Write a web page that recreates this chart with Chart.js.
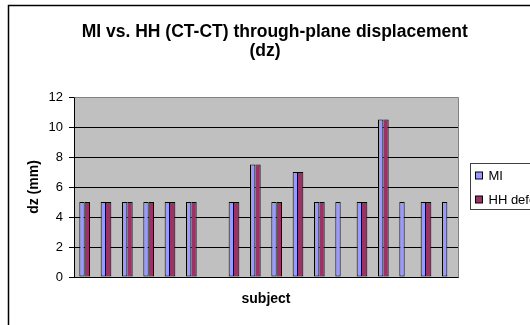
<!DOCTYPE html>
<html>
<head>
<meta charset="utf-8">
<script src="https://cdn.jsdelivr.net/npm/chart.js@4/dist/chart.umd.min.js"></script>
<style>
  html, body { margin: 0; padding: 0; background: #ffffff; }
  #wrap { position: relative; width: 530px; height: 325px; overflow: hidden; }
  canvas { display: block; }
</style>
</head>
<body>
<div id="wrap"><canvas id="c" width="530" height="325"></canvas></div>
<script>
// subjects along the category axis (subject 7 has no measurement)
const subjects = ['1','2','3','4','5','6','7','8','9','10','11','12','13','14','15','16','17','18'];
// through-plane displacement dz in mm
const miValues = [5, 5, 5, 5, 5, 5, null, 5, 7.5, 5, 7, 5, 5, 5, 10.5, 5, 5, 5];
const hhValues = [5, 5, 5, 5, 5, 5, null, 5, 7.5, 5, 7, 5, null, 5, 10.5, null, 5, null];
const seriesNames = ['MI', 'HH deformable'];
const yTicks = [0, 2, 4, 6, 8, 10, 12];

const FONT = "'Liberation Sans', Arial, sans-serif";

// grey plot background plus the outer frame of the chart object
const frameAndPlot = {
  id: 'frameAndPlot',
  beforeDraw(chart) {
    const { ctx, chartArea: a } = chart;
    ctx.save();
    ctx.fillStyle = '#ffffff';
    ctx.fillRect(0, 0, chart.width, chart.height);
    ctx.strokeStyle = '#000000';
    ctx.lineWidth = 1.5;
    ctx.strokeRect(8.5, 5.5, 700, 500);
    ctx.fillStyle = '#C0C0C0';
    ctx.fillRect(a.left, a.top, a.right - a.left, a.bottom - a.top);
    ctx.restore();
  },
  afterDatasetsDraw(chart) {
    const { ctx, chartArea: a } = chart;
    ctx.save();
    ctx.strokeStyle = '#808080';
    ctx.lineWidth = 1;
    ctx.beginPath();
    ctx.moveTo(Math.round(a.left) + 0.5, Math.round(a.top) + 0.5);
    ctx.lineTo(Math.round(a.right) + 0.5, Math.round(a.top) + 0.5);
    ctx.lineTo(Math.round(a.right) + 0.5, Math.round(a.bottom) + 0.5);
    ctx.stroke();
    ctx.restore();
  }
};

// boxed legend to the right of the plot
const boxedLegend = {
  id: 'boxedLegend',
  afterDraw(chart) {
    const { ctx } = chart;
    const x = 470.5, y = 163.5, h = 46;
    ctx.save();
    ctx.strokeStyle = '#404040';
    ctx.lineWidth = 1;
    ctx.strokeRect(x, y, 120, h);
    ctx.font = '13px ' + FONT;
    ctx.textBaseline = 'alphabetic';
    ctx.textAlign = 'left';
    chart.data.datasets.forEach((ds, i) => {
      const rowY = y + 8.5 + i * 24;
      ctx.fillStyle = ds.backgroundColor;
      ctx.fillRect(x + 5, rowY, 7, 7);
      ctx.strokeStyle = '#000000';
      ctx.strokeRect(x + 5, rowY, 7, 7);
      ctx.fillStyle = '#000000';
      ctx.fillText(ds.label, x + 18, rowY + 8);
    });
    ctx.restore();
  }
};

new Chart(document.getElementById('c'), {
  type: 'bar',
  data: {
    labels: subjects,
    datasets: [
      {
        label: seriesNames[0],
        data: miValues,
        backgroundColor: '#9999FF',
        borderColor: '#000000',
        borderWidth: { top: 1, right: 1, bottom: 1, left: 1 },
        borderSkipped: false
      },
      {
        // shares its left edge with the MI bar's right outline
        label: seriesNames[1],
        data: hhValues,
        backgroundColor: '#993366',
        borderColor: '#000000',
        borderWidth: { top: 1, right: 1, bottom: 1, left: 0 },
        borderSkipped: false
      }
    ]
  },
  options: {
    responsive: false,
    animation: false,
    categoryPercentage: 0.5,
    barPercentage: 1.0,
    layout: { padding: 0 },
    plugins: {
      legend: { display: false },
      tooltip: { enabled: false },
      title: {
        display: true,
        fullSize: true,
        text: ['    MI vs. HH (CT-CT) through-plane displacement', '(dz)'],
        color: '#000000',
        font: { family: FONT, size: 17.5, weight: 'bold', lineHeight: '19px' },
        padding: { top: 22.5, bottom: 36.5 }
      }
    },
    scales: {
      x: {
        grid: { display: false },
        border: { display: true, color: '#000000', width: 1 },
        ticks: { display: false },
        title: {
          display: true,
          text: 'subject',
          color: '#000000',
          font: { family: FONT, size: 14, weight: 'bold' },
          padding: { top: 0, bottom: 17 }
        },
        afterFit(scale) { scale.height = 48; }
      },
      y: {
        min: 0,
        max: 12,
        afterBuildTicks(scale) { scale.ticks = yTicks.map(v => ({ value: v })); },
        grid: {
          color: (c) => (c.tick && c.tick.value === 12 ? '#808080' : '#000000'),
          tickColor: '#000000',
          tickLength: 5,
          lineWidth: 1
        },
        border: { display: true, color: '#000000', width: 1 },
        ticks: {
          color: '#000000',
          padding: 6,
          font: { family: FONT, size: 13 }
        },
        title: {
          display: true,
          text: 'dz (mm)',
          color: '#000000',
          font: { family: FONT, size: 14, weight: 'bold' },
          padding: { top: 25.6, bottom: 0 }
        },
        afterFit(scale) { scale.width = 74; }
      },
      // empty right-hand strip that holds the legend
      legendSpace: {
        type: 'linear',
        position: 'right',
        display: true,
        grid: { display: false },
        border: { display: false },
        ticks: { display: false },
        afterFit(scale) { scale.width = 72; }
      }
    }
  },
  plugins: [frameAndPlot, boxedLegend]
});
</script>
</body>
</html>
